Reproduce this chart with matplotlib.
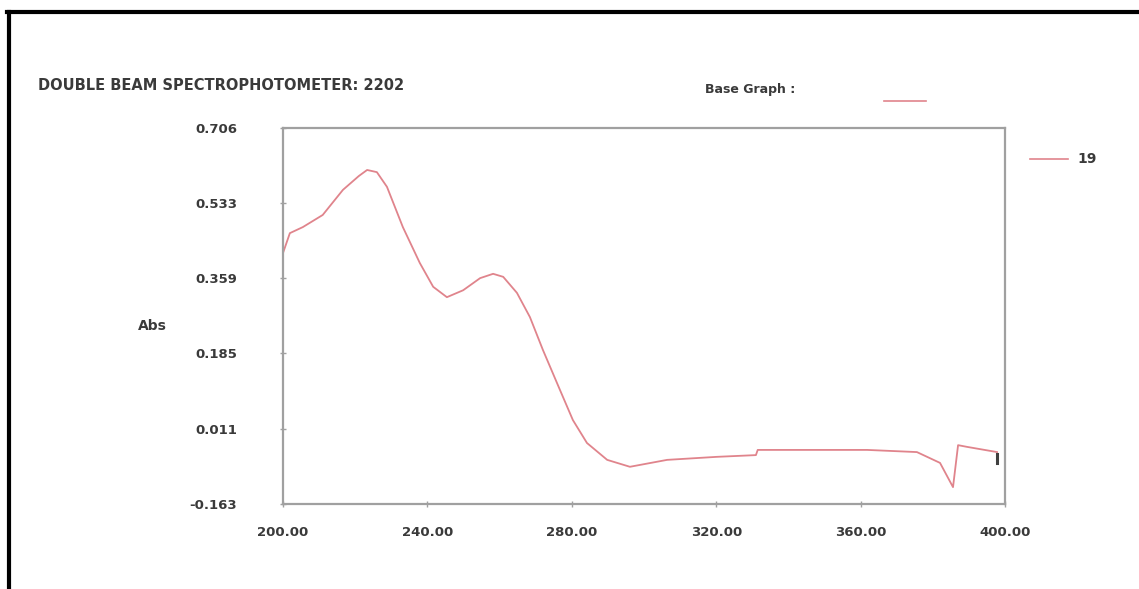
import matplotlib
matplotlib.use("Agg")
import matplotlib.pyplot as plt
from matplotlib.lines import Line2D

# ---- data ----
wavelength = [200, 201.9, 205.5, 211, 216.6, 221, 223.3, 226, 228.8, 233.2,
              237.9, 241.6, 245.4, 249.9, 254.6, 258.2, 261, 264.8, 268.4,
              272, 276.7, 280.3, 284.2, 289.8, 296.1, 306.4, 320.2, 331,
              331.5, 361.8, 375.6, 382, 385.6, 387, 389.5, 397.8]
absorbance = [0.417, 0.463, 0.477, 0.505, 0.563, 0.595, 0.609, 0.604, 0.570, 0.477,
              0.394, 0.339, 0.315, 0.331, 0.359, 0.369, 0.362, 0.325, 0.269,
              0.193, 0.101, 0.031, -0.022, -0.061, -0.077, -0.061, -0.054, -0.050,
              -0.038, -0.038, -0.043, -0.068, -0.124, -0.027, -0.031, -0.043]
cursor_x = [397.8, 397.8]
cursor_y = [-0.047, -0.068]

x_ticks = [200, 240, 280, 320, 360, 400]
x_tick_labels = ["200.00", "240.00", "280.00", "320.00", "360.00", "400.00"]
y_ticks = [0.706, 0.533, 0.359, 0.185, 0.011, -0.163]
y_tick_labels = ["0.706", "0.533", "0.359", "0.185", "0.011", "-0.163"]
title_text = "DOUBLE BEAM SPECTROPHOTOMETER: 2202"
base_graph_text = "Base Graph :"
series_name = "19"
y_label = "Abs"

line_color = "#e0848c"
text_color = "#3a3a3a"

W, H = 1139, 589
fig = plt.figure(figsize=(W / 100, H / 100), dpi=100)
fig.patch.set_facecolor("white")

def fx(px):
    return px / W

def fy(py):
    return 1 - py / H

ax = fig.add_axes([fx(283), fy(504), fx(1005) - fx(283), fy(128) - fy(504)])
ax.plot(wavelength, absorbance, color=line_color, lw=1.3, solid_joinstyle="round")
ax.plot(cursor_x, cursor_y, color="#404040", lw=2.2)

ax.set_xlim(200, 400)
ax.set_ylim(-0.163, 0.706)
ax.set_xticks(x_ticks)
ax.set_xticklabels(x_tick_labels)
ax.set_yticks(y_ticks)
ax.set_yticklabels(y_tick_labels)
for s in ax.spines.values():
    s.set_color("#a0a0a0")
    s.set_linewidth(1.6)
ax.tick_params(axis="both", colors="#a0a0a0", length=4, width=1, direction="inout",
               labelcolor=text_color, labelsize=9.5)
ax.tick_params(axis="x", pad=14)
ax.tick_params(axis="y", pad=31)
for lab in ax.get_xticklabels() + ax.get_yticklabels():
    lab.set_fontweight("bold")

# texts
fig.text(fx(38), fy(86), title_text, fontsize=10.5, fontweight="bold", color=text_color,
         va="center", ha="left")
fig.text(fx(705), fy(90), base_graph_text, fontsize=9, fontweight="bold",
         color=text_color, va="center", ha="left")
fig.add_artist(Line2D([fx(884), fx(926)], [fy(101), fy(101)], color=line_color, lw=1.2))
fig.add_artist(Line2D([fx(1030), fx(1068)], [fy(159), fy(159)], color=line_color, lw=1.2))
fig.text(fx(1077), fy(159), series_name, fontsize=10, fontweight="bold",
         color=text_color, va="center", ha="left")
fig.text(fx(138), fy(326), y_label, fontsize=10, fontweight="bold",
         color=text_color, va="center", ha="left")

# outer black frame (top and left edges)
fig.add_artist(Line2D([fx(7), 1], [fy(11.5), fy(11.5)], color="black", lw=3))
fig.add_artist(Line2D([fx(9), fx(9)], [0, fy(11.5)], color="black", lw=3))

fig.savefig("out.png", dpi=100)
